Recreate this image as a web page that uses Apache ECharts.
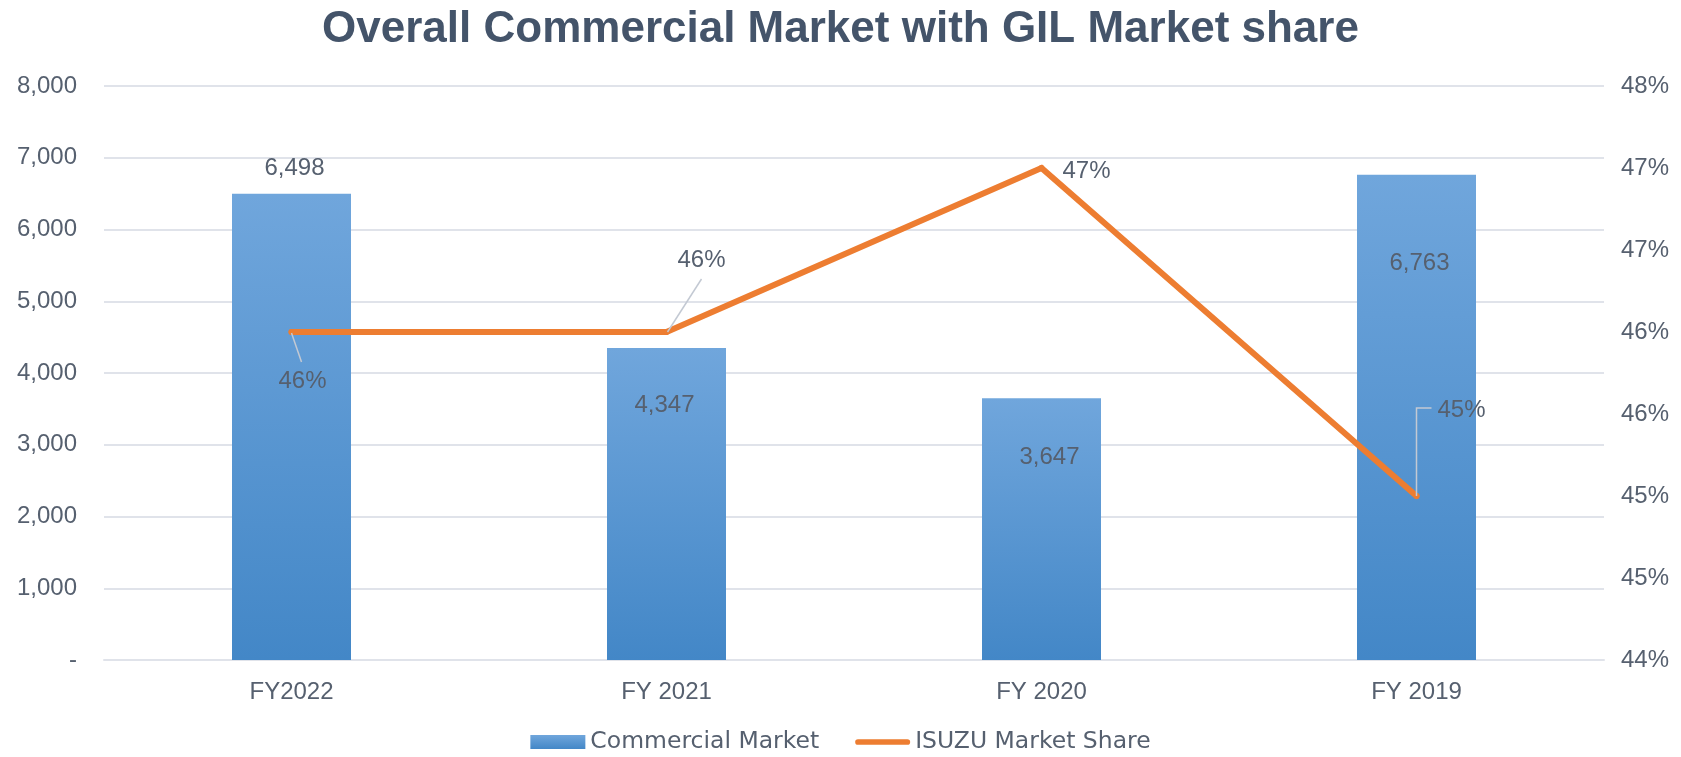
<!DOCTYPE html>
<html><head><meta charset="utf-8">
<script src="https://cdn.jsdelivr.net/npm/echarts@6/dist/echarts.min.js"></script>
<style>html,body{margin:0;padding:0;background:#fff}#c{width:1681px;height:757px}</style>
</head><body><div id="c"></div>
<script>
// ---- data ----
const categories = ['FY2022', 'FY 2021', 'FY 2020', 'FY 2019'];
const commercialMarket = [6498, 4347, 3647, 6763];
const isuzuShare = [46.0, 46.0, 47.0, 45.0];
const shareLabels = ['46%', '46%', '47%', '45%'];
const leftTickLabels = ['-', '1,000', '2,000', '3,000', '4,000', '5,000', '6,000', '7,000', '8,000'];
const rightTickLabels = ['44%', '45%', '45%', '46%', '46%', '47%', '47%', '48%'];

// ---- styles (label placements) ----
const barLabelPlace = [
  { position: 'top', offset: [3, -8] },
  { position: 'insideTop', offset: [-2, 40] },
  { position: 'insideTop', offset: [8, 42] },
  { position: 'insideTop', offset: [3, 72] }
];
const lineLabelOffset = [[11, 49], [35, -72], [45, 3], [45, -86]];
const leaderOffsets = [
  [[0, 1], [10, 30]],
  [[1, 0], [35, -53]],
  null,
  [[0, 0], [0, -88], [15, -88]]
];

const TXT = '#56606f';
const NUMFONT = '"Liberation Sans", Arial, sans-serif';
const FS = 24;

const chart = echarts.init(document.getElementById('c'), null, { renderer: 'canvas' });

const barData = commercialMarket.map((v, i) => ({
  value: v,
  label: { position: barLabelPlace[i].position, offset: barLabelPlace[i].offset }
}));
const lineData = isuzuShare.map((v, i) => ({
  value: v,
  label: { offset: lineLabelOffset[i] }
}));

chart.setOption({
  animation: false,
  backgroundColor: '#ffffff',
  title: {
    text: 'Overall Commercial Market with GIL Market share',
    left: 'center',
    top: 3,
    textStyle: { color: '#44546a', fontSize: 44, fontWeight: 'bold', fontFamily: NUMFONT, lineHeight: 44 }
  },
  legend: {
    top: 725,
    left: 'center',
    itemWidth: 55,
    itemHeight: 14,
    itemGap: 36,
    textStyle: { color: TXT, fontSize: 23.5, fontFamily: '"DejaVu Sans", sans-serif' },
    data: [
      { name: 'Commercial Market', icon: 'rect' },
      { name: 'ISUZU Market Share', icon: 'path://M3,0 L55,0 A3,3 0 0 1 55,6 L3,6 A3,3 0 0 1 3,0 Z' }
    ]
  },
  grid: { left: 104, right: 77, top: 86, bottom: 97, containLabel: false },
  xAxis: {
    type: 'category',
    data: categories,
    axisTick: { show: false },
    axisLine: { show: true, lineStyle: { color: '#e0e3ea', width: 2 } },
    axisLabel: { color: TXT, fontSize: FS, fontFamily: NUMFONT, margin: 20 }
  },
  yAxis: [
    {
      type: 'value', min: 0, max: 8000, interval: 1000,
      axisLine: { show: false }, axisTick: { show: false },
      splitLine: { lineStyle: { color: '#e0e3ea', width: 2 } },
      axisLabel: {
        color: TXT, fontSize: FS, fontFamily: NUMFONT, margin: 27,
        formatter: (v) => leftTickLabels[Math.round(v / 1000)]
      }
    },
    {
      type: 'value', min: 44, max: 47.5, interval: 0.5,
      axisLine: { show: false }, axisTick: { show: false },
      splitLine: { show: false },
      axisLabel: {
        color: TXT, fontSize: FS, fontFamily: NUMFONT, margin: 17,
        formatter: (v) => rightTickLabels[Math.round((v - 44) / 0.5)]
      }
    }
  ],
  series: [
    {
      name: 'Commercial Market',
      type: 'bar',
      barWidth: 119,
      data: barData,
      itemStyle: {
        color: new echarts.graphic.LinearGradient(0, 0, 0, 1, [
          { offset: 0, color: '#70a6dc' },
          { offset: 1, color: '#4387c7' }
        ])
      },
      label: {
        show: true,
        color: TXT, fontSize: FS, fontFamily: NUMFONT, lineHeight: 24,
        formatter: (p) => p.value.toLocaleString('en-US')
      }
    },
    {
      name: 'ISUZU Market Share',
      type: 'line',
      yAxisIndex: 1,
      data: lineData,
      symbol: 'circle',
      symbolSize: 6,
      itemStyle: { color: '#ed7d31' },
      lineStyle: { color: '#ed7d31', width: 6, cap: 'round', join: 'miter' },
      label: {
        show: true, position: 'inside',
        color: TXT, fontSize: FS, fontFamily: NUMFONT, lineHeight: 24,
        formatter: (p) => shareLabels[p.dataIndex]
      },
      z: 3
    }
  ]
});

// leader lines for the share labels, anchored on points from the chart's scales
const leaders = [];
isuzuShare.forEach((v, i) => {
  const offs = leaderOffsets[i];
  if (!offs) return;
  const pt = chart.convertToPixel({ seriesIndex: 1 }, [i, v]);
  leaders.push({
    type: 'polyline',
    z: 100,
    shape: { points: offs.map((o) => [pt[0] + o[0], pt[1] + o[1]]) },
    style: { stroke: '#c3c9d3', lineWidth: 1.5, fill: null }
  });
});
chart.setOption({ graphic: { elements: leaders } });
</script>
</body></html>
